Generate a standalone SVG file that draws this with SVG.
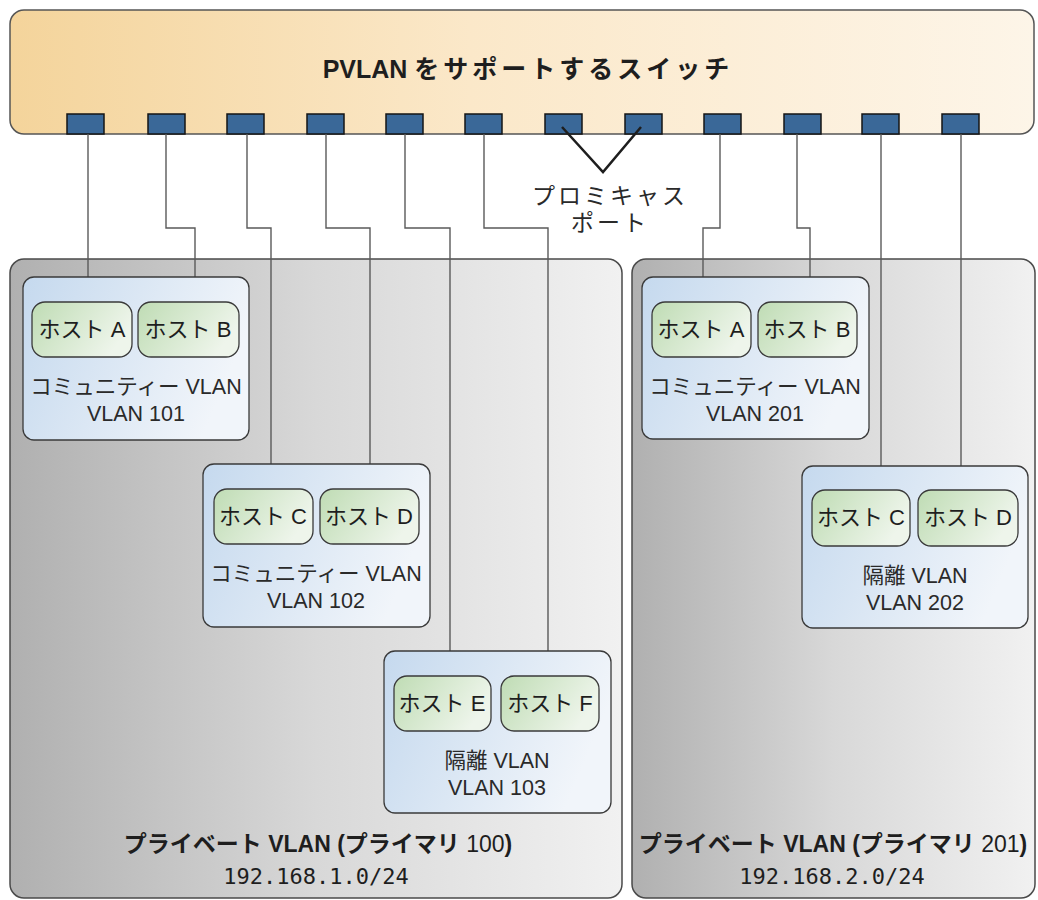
<svg xmlns="http://www.w3.org/2000/svg" width="1038" height="900" viewBox="0 0 1038 900">
<defs>
<linearGradient id="gSwitch" x1="0" y1="0" x2="1" y2="0">
<stop offset="0" stop-color="#f4d49b"/>
<stop offset="0.45" stop-color="#fbe8c9"/>
<stop offset="1" stop-color="#fdf5e8"/>
</linearGradient>
<linearGradient id="gPanel" x1="0" y1="0" x2="1" y2="0">
<stop offset="0" stop-color="#b0b0b0"/>
<stop offset="0.5" stop-color="#d8d8d8"/>
<stop offset="1" stop-color="#f1f1f1"/>
</linearGradient>
<linearGradient id="gVlan" x1="0" y1="0" x2="1" y2="0.3">
<stop offset="0" stop-color="#c5d9ee"/>
<stop offset="1" stop-color="#f1f5fa"/>
</linearGradient>
<linearGradient id="gHost" x1="0" y1="0" x2="1" y2="0.4">
<stop offset="0" stop-color="#bfdcb4"/>
<stop offset="1" stop-color="#eef5eb"/>
</linearGradient>
<style>
.sw{fill:url(#gSwitch);stroke:#555;stroke-width:1.5}
.port{fill:#3a6898;stroke:#151515;stroke-width:1.5}
.panel{fill:url(#gPanel);stroke:#4a4a4a;stroke-width:1.5}
.vlan{fill:url(#gVlan);stroke:#3a3a3a;stroke-width:1.3}
.host{fill:url(#gHost);stroke:#3a3a3a;stroke-width:1.3}
.con{fill:none;stroke:#5a5a5a;stroke-width:1.4}
.prom{fill:none;stroke:#1e1e1e;stroke-width:2.5}
text{font-family:"Liberation Sans","Noto Sans CJK JP",sans-serif;fill:#1e1e1e;text-anchor:middle}
.title{font-size:25px;font-weight:bold}
.ht{font-size:22px}
.vl{font-size:21.5px;fill:#2a2a2a}
.pl{font-size:23px;font-weight:bold}
.ip{font-family:"DejaVu Sans Mono","Liberation Mono",monospace;font-size:22px}
.pt{font-size:23px;letter-spacing:3px;fill:#2a2a2a}
</style>
</defs>

<g id="switch">
<rect class="sw" x="10" y="10" width="1024" height="124" rx="14"/>
<text class="title" x="528" y="78">PVLAN <tspan letter-spacing="4">をサポートするスイッチ</tspan></text>
<rect class="port" x="67" y="114" width="37" height="20"/>
<rect class="port" x="148" y="114" width="37" height="20"/>
<rect class="port" x="227" y="114" width="37" height="20"/>
<rect class="port" x="307" y="114" width="37" height="20"/>
<rect class="port" x="386" y="114" width="37" height="20"/>
<rect class="port" x="465" y="114" width="37" height="20"/>
<rect class="port" x="545" y="114" width="37" height="20"/>
<rect class="port" x="625" y="114" width="37" height="20"/>
<rect class="port" x="704" y="114" width="37" height="20"/>
<rect class="port" x="784" y="114" width="37" height="20"/>
<rect class="port" x="862" y="114" width="37" height="20"/>
<rect class="port" x="942" y="114" width="37" height="20"/>
</g>

<g id="promiscuous">
<path class="prom" d="M562,127 L603,172 L641,127"/>
<text class="pt" x="610" y="204">プロミキャス</text>
<text class="pt" x="610" y="231">ポート</text>
</g>

<g id="pvlan100">
<rect class="panel" x="10" y="259" width="612" height="639" rx="14"/>
<text class="pl" x="318" y="852">プライベート VLAN (プライマリ <tspan font-weight="normal">100</tspan>)</text>
<text class="ip" x="316" y="884">192.168.1.0/24</text>
</g>

<g id="pvlan201">
<rect class="panel" x="632" y="259" width="403" height="639" rx="14"/>
<text class="pl" x="833" y="852">プライベート VLAN (プライマリ <tspan font-weight="normal">201</tspan>)</text>
<text class="ip" x="832" y="884">192.168.2.0/24</text>
</g>

<g id="connectors">
<path class="con" d="M88,134 V302"/>
<path class="con" d="M166,134 V228 H195 V302"/>
<path class="con" d="M247,134 V228 H271 V489"/>
<path class="con" d="M326,134 V228 H370 V489"/>
<path class="con" d="M405,134 V228 H450 V676"/>
<path class="con" d="M484,134 V228 H548 V676"/>
<path class="con" d="M720,134 V228 H703 V302"/>
<path class="con" d="M797,134 V228 H810 V302"/>
<path class="con" d="M881,134 V490"/>
<path class="con" d="M961,134 V490"/>
</g>

<g id="vlan101">
<rect class="vlan" x="23" y="277" width="226" height="163" rx="11"/>
<text class="vl" x="136" y="394">コミュニティー VLAN</text>
<text class="vl" x="136" y="421">VLAN 101</text>
</g>
<g id="host101a"><rect class="host" x="32" y="302" width="100" height="55" rx="13"/><text class="ht" x="82" y="337">ホスト A</text></g>
<g id="host101b"><rect class="host" x="138" y="302" width="101" height="55" rx="13"/><text class="ht" x="188" y="337">ホスト B</text></g>

<g id="vlan102">
<rect class="vlan" x="203" y="464" width="227" height="163" rx="11"/>
<text class="vl" x="316" y="581">コミュニティー VLAN</text>
<text class="vl" x="316" y="608">VLAN 102</text>
</g>
<g id="host102c"><rect class="host" x="214" y="489" width="99" height="55" rx="13"/><text class="ht" x="263" y="524">ホスト C</text></g>
<g id="host102d"><rect class="host" x="320" y="489" width="99" height="55" rx="13"/><text class="ht" x="369" y="524">ホスト D</text></g>

<g id="vlan103">
<rect class="vlan" x="384" y="651" width="227" height="162" rx="11"/>
<text class="vl" x="497" y="768">隔離 VLAN</text>
<text class="vl" x="497" y="795">VLAN 103</text>
</g>
<g id="host103e"><rect class="host" x="394" y="676" width="97" height="55" rx="13"/><text class="ht" x="442" y="711">ホスト E</text></g>
<g id="host103f"><rect class="host" x="501" y="676" width="98" height="55" rx="13"/><text class="ht" x="550" y="711">ホスト F</text></g>

<g id="vlan201">
<rect class="vlan" x="642" y="277" width="227" height="162" rx="11"/>
<text class="vl" x="755" y="394">コミュニティー VLAN</text>
<text class="vl" x="755" y="421">VLAN 201</text>
</g>
<g id="host201a"><rect class="host" x="652" y="302" width="99" height="55" rx="13"/><text class="ht" x="701" y="337">ホスト A</text></g>
<g id="host201b"><rect class="host" x="758" y="302" width="99" height="55" rx="13"/><text class="ht" x="807" y="337">ホスト B</text></g>

<g id="vlan202">
<rect class="vlan" x="802" y="466" width="226" height="162" rx="11"/>
<text class="vl" x="915" y="583">隔離 VLAN</text>
<text class="vl" x="915" y="610">VLAN 202</text>
</g>
<g id="host202c"><rect class="host" x="812" y="490" width="98" height="56" rx="13"/><text class="ht" x="861" y="525">ホスト C</text></g>
<g id="host202d"><rect class="host" x="918" y="490" width="100" height="56" rx="13"/><text class="ht" x="968" y="525">ホスト D</text></g>
</svg>
